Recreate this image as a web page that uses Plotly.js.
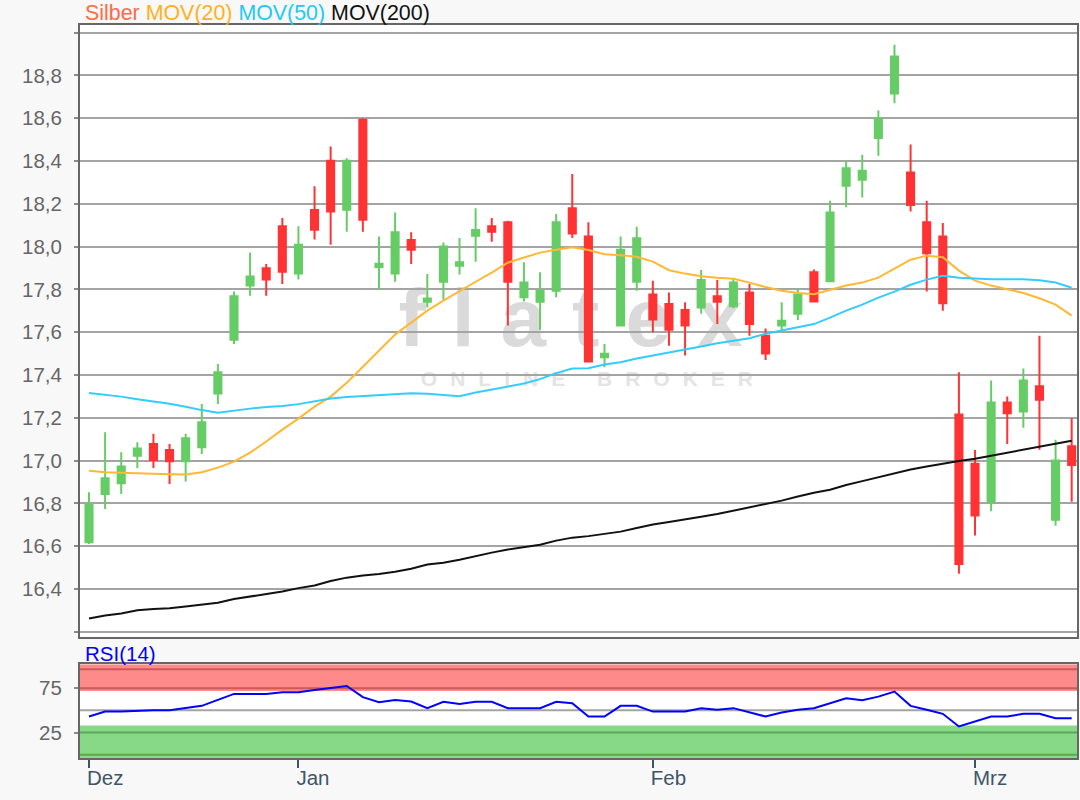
<!DOCTYPE html>
<html><head><meta charset="utf-8">
<script src="https://cdn.plot.ly/plotly-3.0.1.min.js"></script>
<style>html,body{margin:0;padding:0;background:#f8f8f8;}</style>
</head><body>
<div id="chart" style="width:1080px;height:800px;"></div>
<script>
// ---- data ----
const dates = [
 '2019-12-12','2019-12-13','2019-12-16','2019-12-17','2019-12-18','2019-12-19','2019-12-20','2019-12-23','2019-12-24','2019-12-26','2019-12-27','2019-12-30','2019-12-31',
 '2020-01-02','2020-01-03','2020-01-06','2020-01-07','2020-01-08','2020-01-09','2020-01-10','2020-01-13','2020-01-14','2020-01-15','2020-01-16','2020-01-17','2020-01-20','2020-01-21','2020-01-22','2020-01-23','2020-01-24','2020-01-27','2020-01-28','2020-01-29','2020-01-30','2020-01-31',
 '2020-02-03','2020-02-04','2020-02-05','2020-02-06','2020-02-07','2020-02-10','2020-02-11','2020-02-12','2020-02-13','2020-02-14','2020-02-17','2020-02-18','2020-02-19','2020-02-20','2020-02-21','2020-02-24','2020-02-25','2020-02-26','2020-02-27','2020-02-28',
 '2020-03-02','2020-03-03','2020-03-04','2020-03-05','2020-03-06','2020-03-09','2020-03-10'
];
const openP = [16.618,16.844,16.894,17.023,17.078,17.050,16.997,17.062,17.314,17.565,17.818,17.899,18.095,
 17.875,18.171,18.402,18.173,18.593,17.905,17.875,18.031,17.743,17.836,17.911,18.051,18.095,18.114,17.763,17.743,17.794,18.179,18.047,17.483,17.631,17.836,
 17.776,17.732,17.704,17.716,17.768,17.721,17.786,17.584,17.631,17.686,17.880,17.838,18.285,18.313,18.508,18.716,18.347,18.114,18.047,17.215,
 16.985,16.808,17.272,17.230,17.347,16.724,17.067];
const highP = [16.852,17.132,17.039,17.086,17.125,17.078,17.125,17.265,17.452,17.790,17.973,17.919,18.134,
 18.095,18.282,18.468,18.413,18.600,18.048,18.160,18.067,17.872,18.020,18.041,18.179,18.134,18.121,17.927,17.880,18.153,18.340,18.114,17.545,18.047,18.093,
 17.841,17.786,17.740,17.891,17.844,17.852,17.826,17.618,17.740,17.805,17.893,18.215,18.402,18.430,18.636,18.944,18.477,18.215,18.111,17.413,
 17.050,17.374,17.300,17.431,17.584,17.097,17.198];
const lowP = [16.610,16.774,16.844,16.966,16.966,16.891,16.902,17.031,17.265,17.545,17.771,17.771,17.826,
 17.846,18.033,18.009,18.070,18.070,17.799,17.836,17.919,17.716,17.752,17.870,17.930,18.023,17.631,17.744,17.612,17.763,18.040,17.463,17.436,17.631,17.794,
 17.600,17.537,17.491,17.686,17.639,17.712,17.584,17.470,17.600,17.657,17.743,17.838,18.184,18.230,18.425,18.670,18.164,17.790,17.700,16.471,
 16.650,16.763,17.078,17.153,17.051,16.696,16.808];
const closeP = [16.794,16.917,16.973,17.057,17.003,16.997,17.104,17.179,17.413,17.768,17.861,17.846,17.883,
 18.009,18.079,18.164,18.402,18.126,17.920,18.067,17.986,17.758,18.001,17.927,18.078,18.070,17.836,17.833,17.794,18.114,18.062,17.463,17.499,17.985,18.039,
 17.659,17.612,17.631,17.844,17.743,17.833,17.639,17.501,17.654,17.776,17.744,18.160,18.366,18.355,18.597,18.889,18.195,17.969,17.735,16.517,
 16.743,17.272,17.221,17.374,17.285,17.000,16.980];
const mov20 = [16.953,16.946,16.943,16.939,16.938,16.936,16.935,16.946,16.967,16.995,17.037,17.089,17.145,
 17.196,17.252,17.299,17.364,17.439,17.514,17.589,17.645,17.701,17.748,17.790,17.836,17.879,17.925,17.949,17.972,17.986,17.997,17.984,17.965,17.960,17.953,
 17.930,17.890,17.874,17.862,17.855,17.850,17.832,17.811,17.794,17.783,17.778,17.799,17.818,17.832,17.855,17.897,17.939,17.958,17.951,17.888,
 17.841,17.818,17.799,17.783,17.759,17.729,17.678];
const mov50 = [17.316,17.308,17.299,17.287,17.278,17.266,17.252,17.236,17.224,17.234,17.243,17.250,17.255,
 17.264,17.278,17.290,17.297,17.301,17.306,17.311,17.315,17.313,17.306,17.301,17.318,17.332,17.346,17.360,17.381,17.409,17.430,17.432,17.449,17.460,17.477,
 17.491,17.502,17.519,17.533,17.549,17.561,17.572,17.593,17.607,17.621,17.638,17.668,17.701,17.729,17.762,17.790,17.822,17.846,17.864,17.855,
 17.850,17.848,17.848,17.848,17.843,17.832,17.808];
const mov200 = [16.262,16.276,16.285,16.301,16.306,16.310,16.318,16.327,16.336,16.353,16.364,16.374,16.388,
 16.404,16.416,16.437,16.453,16.463,16.470,16.481,16.495,16.514,16.523,16.537,16.554,16.570,16.584,16.596,16.607,16.626,16.640,16.647,16.659,16.668,16.685,
 16.701,16.713,16.724,16.738,16.750,16.766,16.780,16.797,16.813,16.832,16.850,16.864,16.886,16.904,16.923,16.942,16.958,16.972,16.986,16.998,
 17.009,17.023,17.037,17.051,17.063,17.077,17.093];
const rsi14 = [43,48.6,48.6,49.8,50.2,50.2,52.5,55.1,61.8,68.6,68.6,68.6,70.5,
 70.5,73.1,75.7,77.6,65,59.2,61.8,59.9,52.5,59.6,57.3,59.6,59.6,52.5,52.5,52.5,59.6,58.1,43,43,55.1,55.1,
 48.6,48.6,48.6,52.5,50.6,52.5,48,43,47.5,50.6,52.5,58.1,63.7,61.5,65.5,71.2,55.1,50.6,46.1,31.8,
 37.4,43,43,46.1,46.1,41.2,41.2];

const monthTickDates = ['2019-12-12','2020-01-02','2020-02-03','2020-03-02'];
const monthTickLabels = ['Dez','Jan','Feb','Mrz'];
const priceTickVals = [16.2,16.4,16.6,16.8,17.0,17.2,17.4,17.6,17.8,18.0,18.2,18.4,18.6,18.8,19.0];
const priceTickText = ['','16,4','16,6','16,8','17,0','17,2','17,4','17,6','17,8','18,0','18,2','18,4','18,6','18,8',''];
const rsiTickVals = [25,75];
const rsiTickText = ['25','75'];
const rsiGridLevels = [0,25,50,75,96.4];
const rsiBands = [[72,102],[-3.8,33]];
const legendNames = ['Silber','MOV(20)','MOV(50)','MOV(200)'];
const rsiTitle = 'RSI(14)';
const watermark = 'flatex';
const watermarkSub = 'ONLINE BROKER';

// ---- styles ----
const FONT = 'Liberation Sans, Arial, sans-serif';
const FS = 20.5;
const GREEN = '#66cc66', RED = '#ff3333';
const C20 = '#ffb833', C50 = '#33ccff', C200 = '#111111';
const legendColors = ['#ff6a45','#ffb020','#22c8f8','#111111'];
const bandColors = ['rgba(255,0,0,0.46)','rgba(0,172,0,0.47)'];
const XR = [-0.559, 61.33];

const traces = [
 {type:'candlestick', x:dates, open:openP, high:highP, low:lowP, close:closeP,
  xaxis:'x', yaxis:'y', hoverinfo:'skip', showlegend:false,
  increasing:{line:{color:GREEN,width:2}, fillcolor:GREEN},
  decreasing:{line:{color:RED,width:2}, fillcolor:RED}},
 {type:'scatter', mode:'lines', x:dates, y:mov20, line:{color:C20,width:2}, xaxis:'x', yaxis:'y', hoverinfo:'skip', showlegend:false},
 {type:'scatter', mode:'lines', x:dates, y:mov50, line:{color:C50,width:2}, xaxis:'x', yaxis:'y', hoverinfo:'skip', showlegend:false},
 {type:'scatter', mode:'lines', x:dates, y:mov200, line:{color:C200,width:2}, xaxis:'x', yaxis:'y', hoverinfo:'skip', showlegend:false},
 {type:'scatter', mode:'lines', x:dates, y:rsi14, line:{color:'#0000ff',width:2}, xaxis:'x2', yaxis:'y2', hoverinfo:'skip', showlegend:false}
];

const legendHtml = legendNames.map((n,i)=>`<span style="color:${legendColors[i]}">${n}</span>`).join(' ');

const shapes = [];
// watermark (drawn under everything)
shapes.push({type:'rect', layer:'below', xref:'paper', yref:'paper', x0:0.31, x1:0.70, y0:0.562, y1:0.662, line:{width:0}, fillcolor:'rgba(0,0,0,0)',
   label:{text:watermark, textposition:'middle center', font:{family:FONT, size:82, color:'#dadada'}}});
shapes.push({type:'rect', layer:'below', xref:'paper', yref:'paper', x0:0.35, x1:0.68, y0:0.501, y1:0.541, line:{width:0}, fillcolor:'rgba(0,0,0,0)',
   label:{text:watermarkSub, textposition:'middle center', font:{family:FONT, size:21, color:'#e4e4e4'}}});
// RSI grid lines then translucent bands on top of them
rsiGridLevels.forEach(v=>shapes.push({type:'line', layer:'below', xref:'x2 domain', yref:'y2', x0:0, x1:1, y0:v, y1:v, line:{color:'#a4a4a4', width:2}}));
rsiBands.forEach((b,i)=>shapes.push({type:'rect', layer:'below', xref:'x2 domain', yref:'y2', x0:0, x1:1, y0:b[0], y1:b[1], line:{width:0}, fillcolor:bandColors[i]}));

const layout = {
 width:1080, height:800,
 margin:{l:80, r:2.5, t:25, b:42},
 paper_bgcolor:'#f8f8f8', plot_bgcolor:'#ffffff',
 font:{family:FONT, size:FS, color:'#666666'},
 separators:',.',
 showlegend:false,
 boxgap:0.37,
 xaxis:{type:'category', domain:[0,1], anchor:'y', range:XR, rangeslider:{visible:false},
  showgrid:false, showticklabels:false, ticks:'', showline:true, mirror:true, linecolor:'#666666', linewidth:2, zeroline:false, fixedrange:true},
 yaxis:{domain:[0.1655,1], anchor:'x', range:[16.177,19.036], tickvals:priceTickVals, ticktext:priceTickText,
  showgrid:true, gridcolor:'#a4a4a4', gridwidth:2, ticks:'outside', ticklen:4, tickwidth:2, tickcolor:'#8a8a8a',
  ticklabelstandoff:8, showline:true, mirror:true, linecolor:'#666666', linewidth:2, zeroline:false,
  tickfont:{family:FONT, size:FS, color:'#666666'}, fixedrange:true},
 xaxis2:{type:'category', domain:[0,1], anchor:'y2', range:XR, showgrid:false,
  tickvals:monthTickDates, ticktext:monthTickLabels, ticks:'outside', ticklen:8, tickwidth:2, tickcolor:'#3d5569',
  ticklabelposition:'outside right', ticklabelshift:-4, tickfont:{family:FONT, size:FS, color:'#3d5569'},
  showline:true, mirror:true, linecolor:'#666666', linewidth:2, zeroline:false, fixedrange:true},
 yaxis2:{domain:[0,0.1278], anchor:'x2', range:[-3.8,102], tickvals:rsiTickVals, ticktext:rsiTickText,
  showgrid:false, ticks:'outside', ticklen:4, tickwidth:2, tickcolor:'#8a8a8a',
  ticklabelstandoff:8, showline:true, mirror:true, linecolor:'#666666', linewidth:2, zeroline:false,
  tickfont:{family:FONT, size:FS, color:'#666666'}, fixedrange:true},
 shapes: shapes,
 annotations:[
  {xref:'paper', yref:'paper', x:0.0027, y:1.0164, xanchor:'left', yanchor:'middle', showarrow:false,
   text:legendHtml, font:{family:FONT, size:21.4}},
  {xref:'paper', yref:'paper', x:0.0027, y:0.1419, xanchor:'left', yanchor:'middle', showarrow:false,
   text:rsiTitle, font:{family:FONT, size:FS, color:'#0000ff'}}
 ]
};

Plotly.newPlot('chart', traces, layout, {displayModeBar:false, staticPlot:true}).then(()=>{
  document.querySelectorAll('#chart svg text').forEach(t=>{
    if (t.textContent === watermark) { t.style.letterSpacing = '26px'; t.style.fontWeight = 'bold'; }
    if (t.textContent === watermarkSub) { t.style.letterSpacing = '13px'; t.style.fontWeight = 'bold'; }
  });
});
</script>
</body></html>
